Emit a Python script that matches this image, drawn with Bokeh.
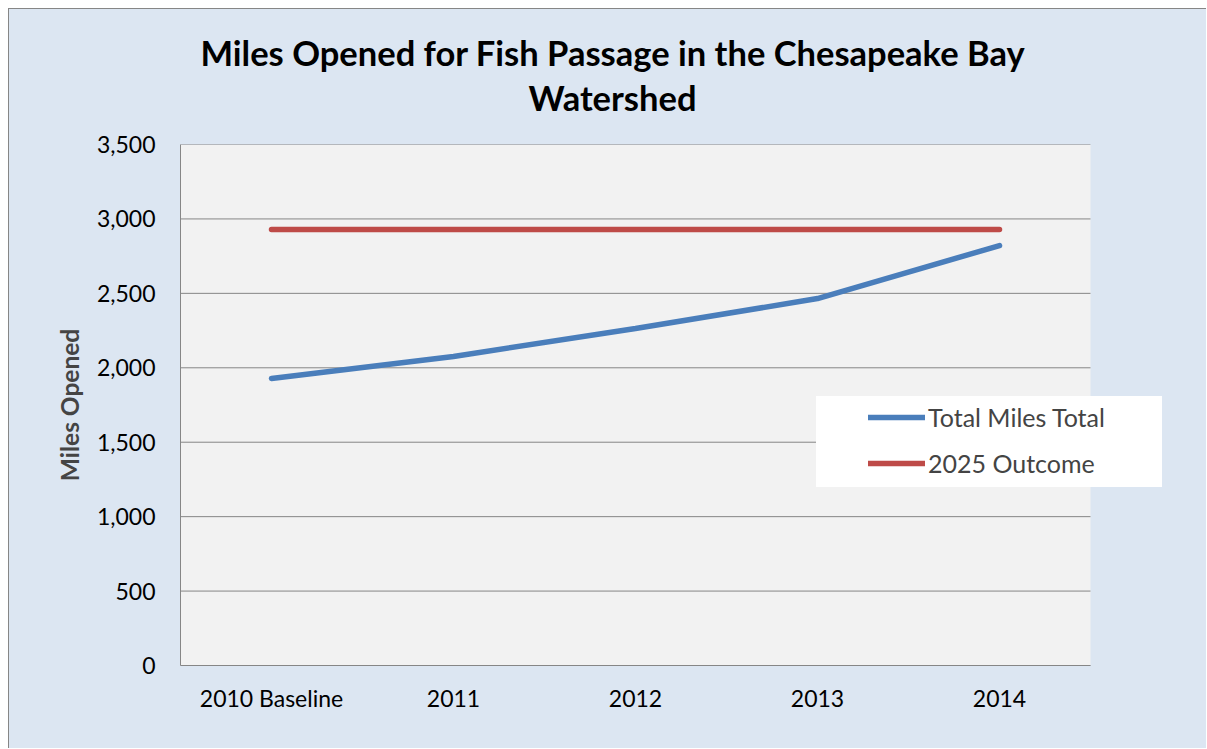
from bokeh.plotting import figure
from bokeh.models import (Range1d, FixedTicker, NumeralTickFormatter,
                          Legend, LegendItem, Title, ColumnDataSource, BoxAnnotation)
from bokeh.embed import file_html
from bokeh.resources import INLINE

categories = ["2010 Baseline", "2011", "2012", "2013", "2014"]
total_miles = [1928, 2076, 2264, 2465, 2821]
outcome_2025 = [2929, 2929, 2929, 2929, 2929]
y_ticks = [0, 500, 1000, 1500, 2000, 2500, 3000, 3500]
title_lines = ["Miles Opened for Fish Passage in the Chesapeake Bay", "Watershed"]
series_names = ["Total Miles Total", "2025 Outcome"]

FONT = "Lato"
BG = "#dce6f2"
GRID = "#868686"

n = len(categories)
xs = [i + 0.5 for i in range(n)]
# the frame runs on past the plot area (to leave room for the legend box)
x_end = n * 1027 / 910

p = figure(width=1198, height=740, x_range=Range1d(0, x_end),
           y_range=Range1d(0, y_ticks[-1]), output_backend="svg", toolbar_location=None,
           min_border_left=171, min_border_right=0, min_border_top=135, min_border_bottom=84)
p.background_fill_color = BG
p.border_fill_color = BG
p.outline_line_color = None
p.styles = {"margin-left": "8px", "margin-top": "8px", "background-color": BG,
            "border-left": "1px solid #868686", "border-top": "1px solid #868686"}

# plot area
p.add_layout(BoxAnnotation(left=0, right=n, fill_color="#f2f2f2", fill_alpha=1.0,
                           line_color=None, level="underlay"))
p.xgrid.visible = False
p.ygrid.visible = False
p.segment(x0=[0] * len(y_ticks), x1=[n] * len(y_ticks), y0=y_ticks, y1=y_ticks,
          line_color=GRID, line_width=1)

src = ColumnDataSource(dict(x=xs, total=total_miles, outcome=outcome_2025))
r_out = p.line("x", "outcome", source=src, line_color="#be4b48", line_width=5.5, line_cap="round")
r_tot = p.line("x", "total", source=src, line_color="#4a7ebb", line_width=5.5, line_cap="round")

xa = p.xaxis[0]
xa.ticker = FixedTicker(ticks=xs)
xa.major_label_overrides = {x: c for x, c in zip(xs, categories)}
xa.bounds = (0, n)
xa.major_label_standoff = 12

ya = p.yaxis[0]
ya.ticker = FixedTicker(ticks=y_ticks)
ya.formatter = NumeralTickFormatter(format="0,0")
ya.axis_label = "Miles Opened"
ya.axis_label_text_font = FONT
ya.axis_label_text_font_style = "bold"
ya.axis_label_text_font_size = "24.5px"
ya.axis_label_standoff = 10
ya.major_label_standoff = 19
for ax in (xa, ya):
    ax.axis_line_color = GRID
    ax.major_tick_line_color = None
    ax.minor_tick_line_color = None
    ax.major_label_text_font = FONT
    ax.major_label_text_font_size = "23px"
    ax.major_label_text_color = "#000000"

# legend background box
r_dummy = p.line(x=[], y=[], line_alpha=0)
bg_leg = Legend(items=[LegendItem(label=" ", renderers=[r_dummy])], location=(636, 178),
                glyph_width=346, glyph_height=91, label_height=91, label_width=0,
                label_standoff=0, padding=0, spacing=0, margin=0,
                background_fill_color="white", background_fill_alpha=1.0,
                border_line_color=None, label_text_font_size="1px")
p.add_layout(bg_leg, "center")

leg = Legend(items=[LegendItem(label=series_names[0], renderers=[r_tot]),
                    LegendItem(label=series_names[1], renderers=[r_out])],
             location=(688, 187), glyph_width=57, glyph_height=24, label_height=24,
             label_standoff=3, spacing=16, padding=0, margin=0,
             background_fill_alpha=0, border_line_color=None,
             label_text_font=FONT, label_text_font_size="25px")
p.add_layout(leg, "center")

t2 = Title(text=title_lines[1], align="left", offset=348, standoff=54,
           text_font=FONT, text_font_style="bold", text_font_size="34.5px", text_color="#000000")
t1 = Title(text=title_lines[0], align="left", offset=20, standoff=-50,
           text_font=FONT, text_font_style="bold", text_font_size="34.5px", text_color="#000000")
p.add_layout(t2, "above")
p.add_layout(t1, "above")

open("out.html", "w").write(file_html(p, INLINE))
